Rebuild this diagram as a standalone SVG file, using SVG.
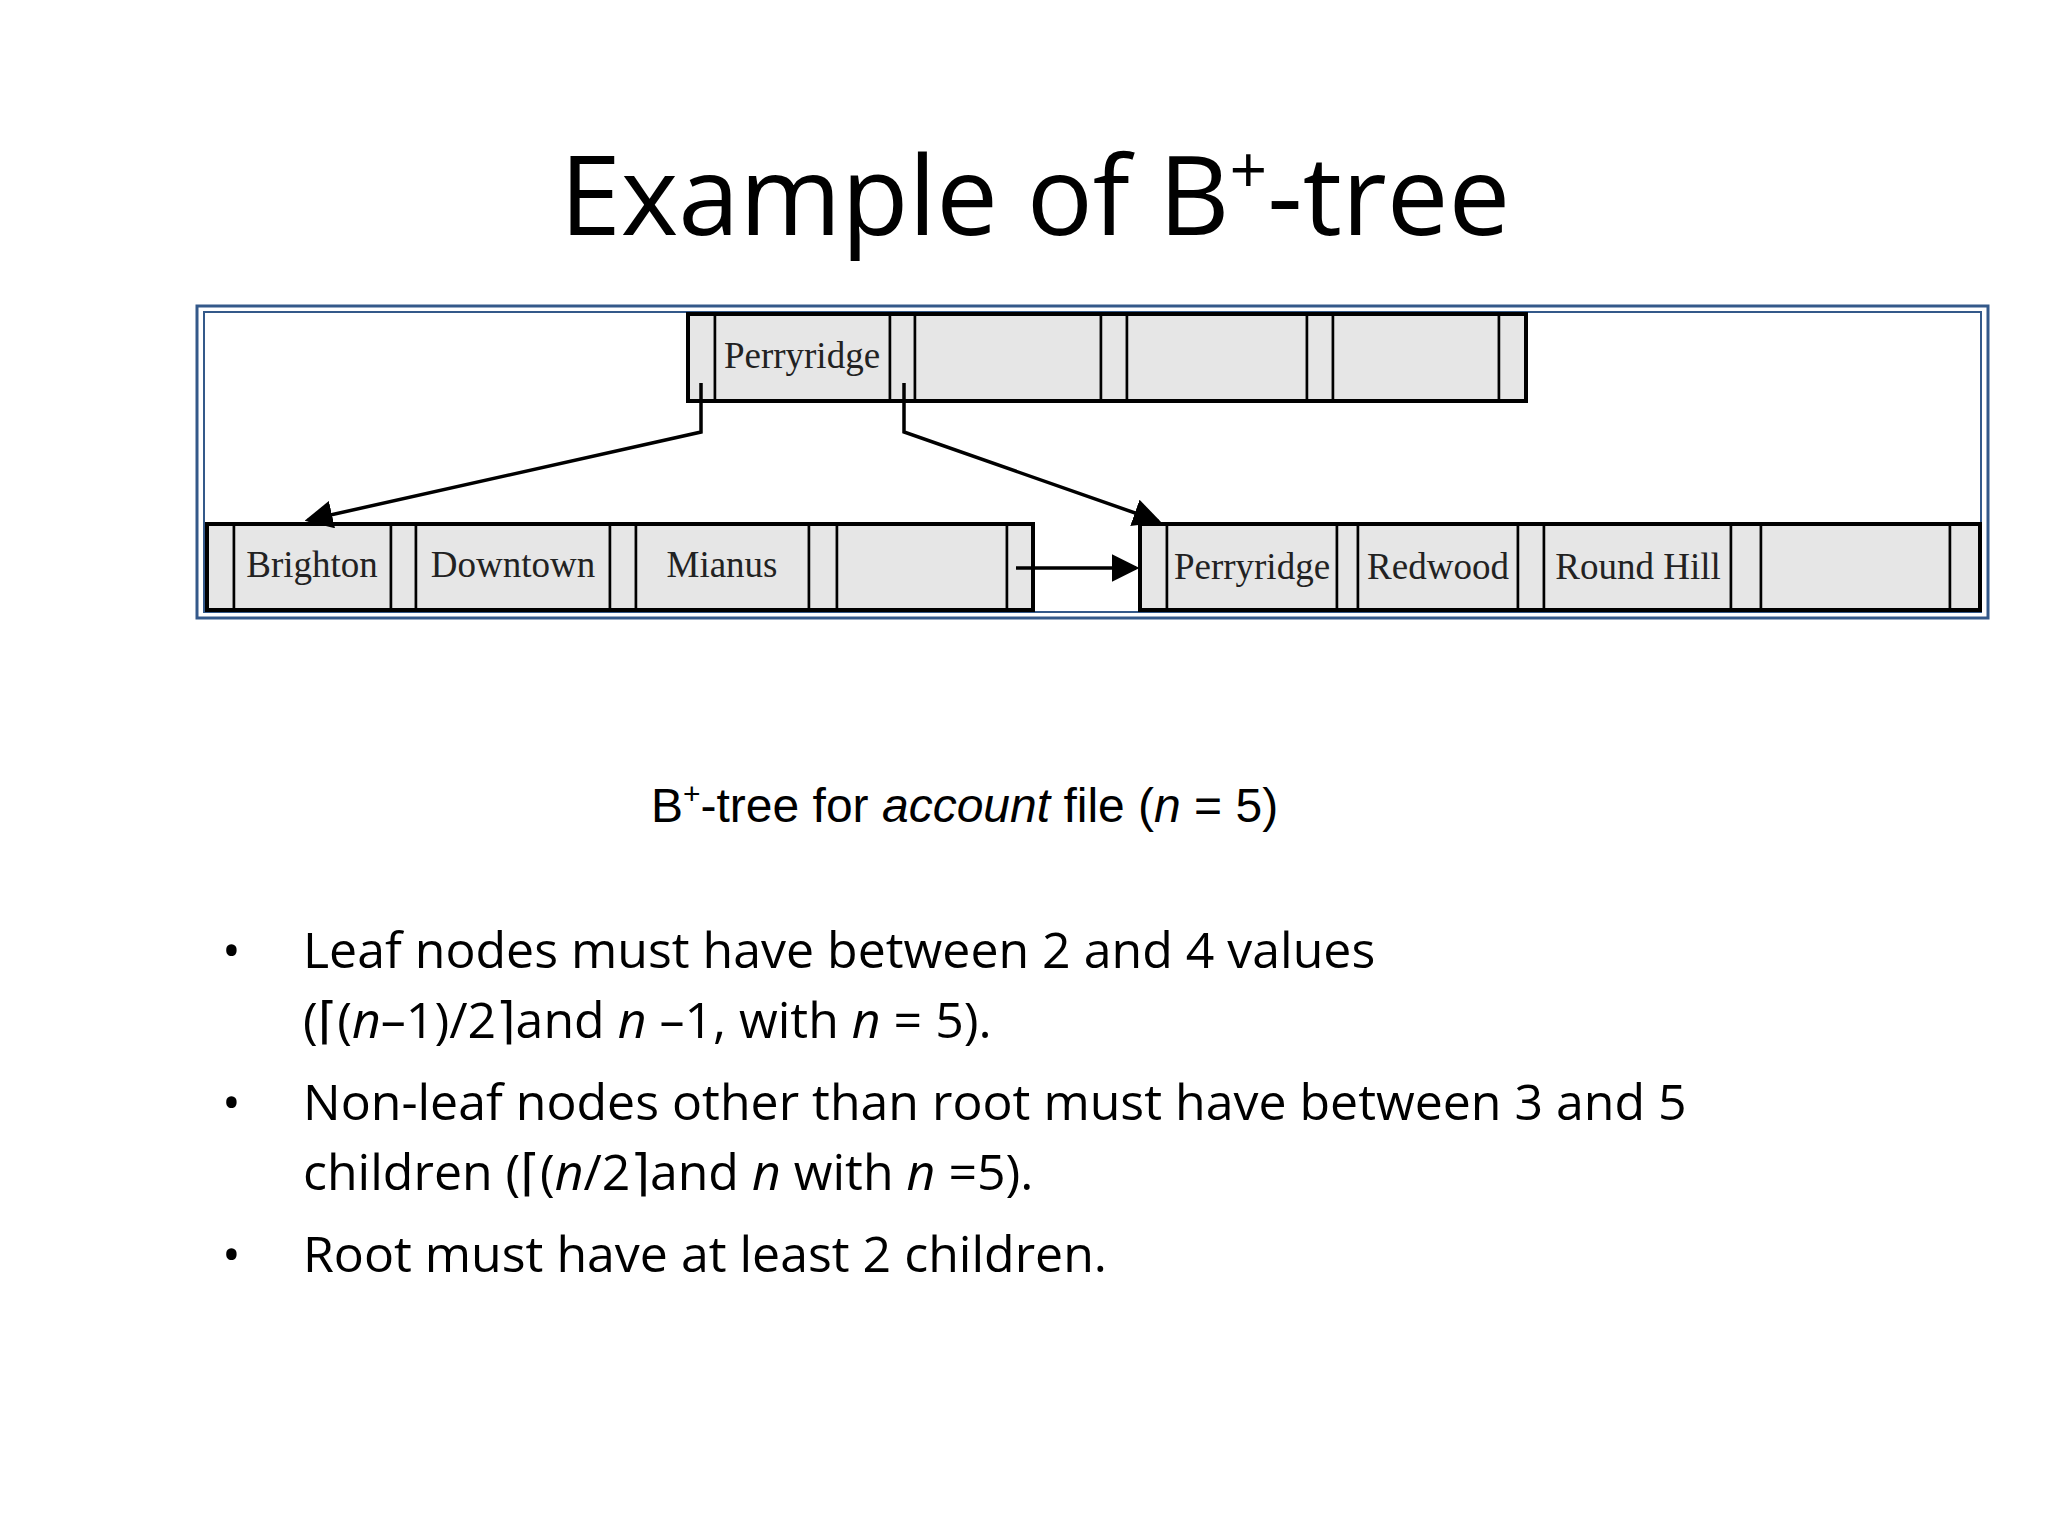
<svg xmlns="http://www.w3.org/2000/svg" width="2048" height="1536" viewBox="0 0 2048 1536">
<style>
.cell{fill:#e6e6e6;stroke:#000;stroke-width:2.5}
.box{fill:none;stroke:#000;stroke-width:4}
.k{font-family:"Liberation Serif",serif;font-size:37px;fill:#222;text-anchor:middle}
.con{fill:none;stroke:#000;stroke-width:3.5}
.b{font-family:"Open Sans","Liberation Sans",sans-serif;font-size:50px;fill:#000}
</style>
<defs>
<marker id="ah" markerWidth="8" markerHeight="8" refX="7" refY="4" orient="auto" markerUnits="strokeWidth"><path d="M0,0 L8,4 L0,8 z" fill="#000"/></marker>
</defs>
<rect width="2048" height="1536" fill="#fff"/>
<text x="1035" y="235" font-family="Open Sans,Liberation Sans,sans-serif" font-size="110" text-anchor="middle" fill="#000">Example of B<tspan font-size="66" dy="-42">+</tspan><tspan dy="42">-tree</tspan></text>
<rect x="197" y="306" width="1791" height="312" fill="#fff" stroke="#34598a" stroke-width="3"/>
<rect x="204" y="312" width="1777" height="300" fill="none" stroke="#34598a" stroke-width="2"/>
<g id="root">
<rect class="cell" x="688" y="314" width="27" height="87"/><rect class="cell" x="715" y="314" width="175" height="87"/>
<rect class="cell" x="890" y="314" width="25" height="87"/><rect class="cell" x="915" y="314" width="186" height="87"/>
<rect class="cell" x="1101" y="314" width="26" height="87"/><rect class="cell" x="1127" y="314" width="180" height="87"/>
<rect class="cell" x="1307" y="314" width="26" height="87"/><rect class="cell" x="1333" y="314" width="166" height="87"/>
<rect class="cell" x="1499" y="314" width="27" height="87"/>
<rect class="box" x="688" y="314" width="838" height="87"/>
<text class="k" x="802" y="368">Perryridge</text>
</g>
<g id="leaf1">
<rect class="cell" x="207" y="524" width="27" height="86"/><rect class="cell" x="234" y="524" width="157" height="86"/>
<rect class="cell" x="391" y="524" width="25" height="86"/><rect class="cell" x="416" y="524" width="194" height="86"/>
<rect class="cell" x="610" y="524" width="26" height="86"/><rect class="cell" x="636" y="524" width="173" height="86"/>
<rect class="cell" x="809" y="524" width="28" height="86"/><rect class="cell" x="837" y="524" width="170" height="86"/>
<rect class="cell" x="1007" y="524" width="26" height="86"/>
<rect class="box" x="207" y="524" width="826" height="86"/>
<text class="k" x="312" y="577">Brighton</text><text class="k" x="513" y="577">Downtown</text><text class="k" x="722" y="577">Mianus</text>
</g>
<g id="leaf2">
<rect class="cell" x="1140" y="524" width="27" height="86"/><rect class="cell" x="1167" y="524" width="170" height="86"/>
<rect class="cell" x="1337" y="524" width="21" height="86"/><rect class="cell" x="1358" y="524" width="160" height="86"/>
<rect class="cell" x="1518" y="524" width="26" height="86"/><rect class="cell" x="1544" y="524" width="187" height="86"/>
<rect class="cell" x="1731" y="524" width="30" height="86"/><rect class="cell" x="1761" y="524" width="189" height="86"/>
<rect class="cell" x="1950" y="524" width="30" height="86"/>
<rect class="box" x="1140" y="524" width="840" height="86"/>
<text class="k" x="1252" y="579">Perryridge</text><text class="k" x="1438" y="579">Redwood</text><text class="k" x="1638" y="579">Round Hill</text>
</g>
<g id="connectors">
<path class="con" d="M701,383 V432 L308,520" marker-end="url(#ah)"/>
<path class="con" d="M904,383 V432 L1158,521" marker-end="url(#ah)"/>
<path class="con" d="M1016,568 H1136" marker-end="url(#ah)"/>
</g>
<text x="651" y="822" font-family="Liberation Sans,Arial,sans-serif" font-size="48" fill="#000">B<tspan font-size="30" dy="-18">+</tspan><tspan dy="18">-tree for </tspan><tspan font-style="italic">account</tspan> file (<tspan font-style="italic">n</tspan> = 5)</text>
<g class="b">
<text x="222" y="968">•</text><text x="303" y="968">Leaf nodes must have between 2 and 4 values</text>
<text x="303" y="1038">(<tspan font-family="DejaVu Sans,sans-serif">⌈</tspan>(<tspan font-style="italic">n</tspan>–1)/2<tspan font-family="DejaVu Sans,sans-serif">⌉</tspan>and <tspan font-style="italic">n</tspan> –1, with <tspan font-style="italic">n</tspan> = 5).</text>
<text x="222" y="1120">•</text><text x="303" y="1120">Non-leaf nodes other than root must have between 3 and 5</text>
<text x="303" y="1190">children (<tspan font-family="DejaVu Sans,sans-serif">⌈</tspan>(<tspan font-style="italic">n</tspan>/2<tspan font-family="DejaVu Sans,sans-serif">⌉</tspan>and <tspan font-style="italic">n</tspan> with <tspan font-style="italic">n</tspan> =5).</text>
<text x="222" y="1272">•</text><text x="303" y="1272">Root must have at least 2 children.</text>
</g>
</svg>
